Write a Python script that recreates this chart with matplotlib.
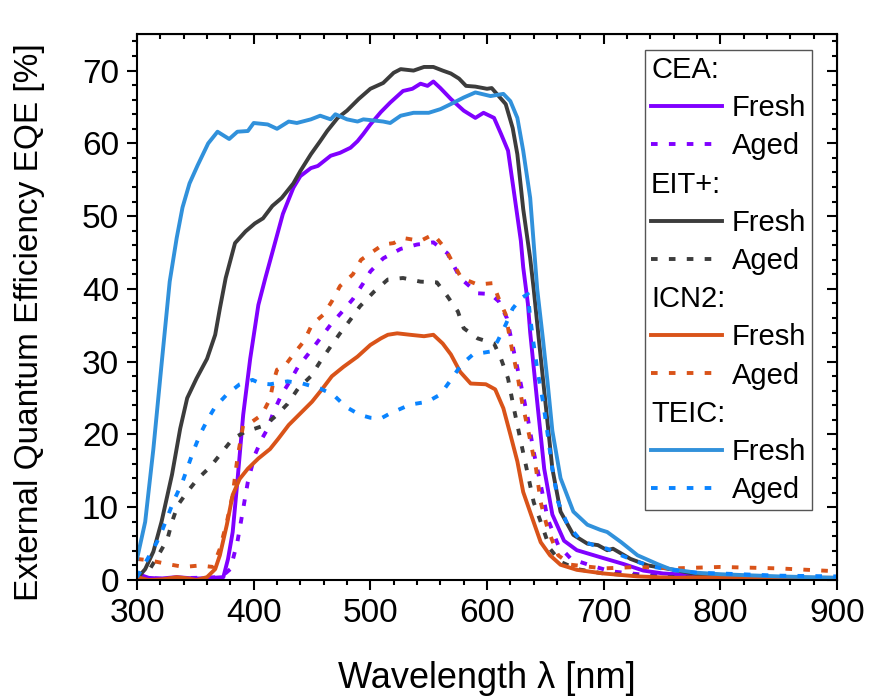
import matplotlib
matplotlib.use("Agg")
import matplotlib.pyplot as plt
import matplotlib.text as mtext
from matplotlib.ticker import MultipleLocator
from matplotlib.legend_handler import HandlerBase

plt.rcParams["font.family"] = ["Liberation Sans", "DejaVu Sans"]

# Dados: comprimento de onda (nm) e EQE (%)
cea_fresh_wl = [300, 303, 310, 320, 334, 350, 365, 374, 378, 382, 386, 391, 397, 404, 410, 417,
                425, 434, 440, 449, 455, 466, 474, 483, 489, 494, 500, 509, 517, 528, 536, 543,
                549, 554, 560, 569, 580, 590, 597, 606, 612, 618, 623, 626, 629, 631, 635, 637,
                643, 649, 656, 666, 677, 700, 717, 734, 751, 800, 850, 900]
cea_fresh = [0.3, 0.7, 0.3, 0.2, 0.4, 0.2, 0.3, 0.4, 2.9, 6.6, 13.5, 22.7, 30.4, 37.8, 41.5, 45.6,
             50.3, 53.9, 55.5, 56.6, 56.9, 58.3, 58.7, 59.4, 60.3, 61.3, 62.6, 64.3, 65.6, 67.2, 67.5, 68.2,
             67.9, 68.5, 67.6, 66.1, 64.5, 63.5, 64.2, 63.5, 61.3, 59.0, 53.4, 50.0, 46.6, 43.0, 38.0, 34.0,
             24.5, 15.3, 9.0, 5.4, 4.1, 3.0, 2.2, 1.3, 0.9, 0.5, 0.3, 0.2]

cea_aged_wl = [300, 320, 350, 372, 380, 386, 391, 395, 401, 407, 412, 417, 424, 431, 438, 447,
               457, 466, 476, 485, 494, 500, 511, 526, 540, 554, 566, 577, 592, 603, 610, 617,
               623, 629, 635, 640, 646, 652, 661, 672, 689, 706, 730, 760, 800, 900]
cea_aged = [0.3, 0.2, 0.3, 0.4, 1.5, 5.2, 9.8, 13.5, 17.2, 19.4, 20.8, 23.1, 25.5, 27.3, 29.3, 31.1,
            33.2, 35.1, 36.9, 38.6, 40.8, 42.4, 44.2, 45.5, 46.1, 46.4, 44.9, 41.5, 39.4, 39.3, 38.3, 36.0,
            31.4, 26.9, 22.2, 17.6, 13.1, 8.4, 4.8, 2.9, 2.0, 1.2, 0.8, 0.5, 0.3, 0.2]

eit_fresh_wl = [300, 307, 314, 321, 330, 337, 343, 351, 360, 367, 371, 376, 384, 393, 401, 408,
                416, 424, 434, 440, 449, 457, 463, 472, 480, 490, 500, 511, 520, 526, 537, 546,
                554, 562, 569, 576, 582, 590, 600, 604, 610, 616, 622, 626, 631, 637, 640, 644,
                650, 656, 663, 674, 686, 695, 703, 708, 723, 738, 757, 780, 800, 850, 900]
eit_fresh = [0.2, 1.5, 3.9, 8.0, 14.5, 20.8, 25.0, 27.7, 30.4, 33.7, 37.3, 41.5, 46.3, 47.9, 49.0, 49.7,
             51.4, 52.5, 54.5, 56.2, 58.5, 60.3, 61.7, 63.5, 64.5, 66.1, 67.5, 68.3, 69.7, 70.2, 70.0, 70.5,
             70.5, 70.0, 69.6, 68.9, 67.9, 67.8, 67.5, 67.6, 66.5, 65.4, 62.1, 58.5, 51.0, 44.2, 40.0, 33.7,
             24.5, 15.3, 9.4, 6.2, 5.0, 4.8, 4.1, 4.3, 2.9, 2.0, 1.5, 0.8, 0.5, 0.3, 0.3]

eit_aged_wl = [300, 301, 311, 320, 326, 330, 335, 343, 352, 363, 373, 382, 393, 401, 410, 420,
               429, 438, 449, 457, 466, 474, 483, 491, 503, 515, 528, 543, 557, 566, 575, 580,
               592, 606, 612, 618, 623, 629, 635, 640, 646, 654, 663, 677, 700, 750, 800, 900]
eit_aged = [0.3, 0.7, 1.5, 3.9, 5.6, 8.0, 10.3, 12.1, 13.9, 15.6, 17.6, 19.4, 20.4, 20.8, 21.3, 22.7,
            24.2, 26.3, 28.0, 30.0, 32.1, 33.9, 35.8, 37.6, 39.6, 41.3, 41.5, 41.0, 40.9, 39.0, 36.9, 34.6,
            33.2, 32.5, 30.4, 27.7, 23.6, 19.0, 14.5, 10.7, 8.0, 4.3, 2.5, 1.5, 0.9, 0.4, 0.3, 0.2]

icn_fresh_wl = [300, 310, 322, 334, 345, 351, 360, 367, 371, 377, 382, 388, 395, 404, 414, 421,
                430, 440, 450, 459, 467, 477, 489, 500, 509, 515, 523, 534, 546, 554, 562, 569,
                577, 586, 599, 607, 614, 620, 626, 631, 639, 646, 654, 663, 677, 700, 729, 760,
                800, 850, 900]
icn_fresh = [0.4, 0.0, 0.1, 0.4, 0.2, 0.0, 0.4, 1.5, 3.4, 7.6, 11.7, 13.9, 15.3, 16.7, 18.0, 19.4,
             21.3, 22.9, 24.5, 26.3, 28.0, 29.3, 30.7, 32.3, 33.2, 33.7, 33.9, 33.7, 33.5, 33.7, 32.5, 31.0,
             28.6, 27.0, 26.9, 26.2, 23.6, 20.0, 16.3, 12.1, 8.4, 5.2, 3.4, 2.1, 1.4, 0.9, 0.5, 0.3,
             0.4, 0.3, 0.3]

icn_aged_wl = [300, 311, 326, 340, 354, 365, 371, 377, 382, 386, 391, 399, 407, 414, 417, 420,
               427, 434, 443, 450, 460, 467, 474, 485, 492, 500, 511, 520, 528, 543, 554, 564,
               571, 578, 592, 605, 610, 616, 620, 626, 630, 636, 642, 646, 652, 661, 672, 700,
               730, 760, 800, 850, 900]
icn_aged = [2.9, 2.7, 2.2, 1.8, 2.0, 1.8, 4.3, 8.0, 11.7, 16.7, 21.3, 21.8, 22.7, 24.9, 27.3, 28.9,
            29.5, 31.0, 32.8, 35.1, 36.5, 38.3, 40.4, 42.0, 44.0, 44.9, 46.1, 46.3, 47.0, 46.6, 47.5, 45.6,
            43.5, 41.5, 40.6, 40.8, 38.7, 36.5, 32.8, 28.2, 24.5, 20.0, 15.3, 10.7, 7.0, 3.4, 2.1, 1.6,
            1.8, 1.6, 1.8, 1.6, 1.2]

teic_fresh_wl = [300, 307, 314, 321, 328, 334, 339, 345, 352, 361, 369, 379, 386, 395, 400, 412,
                 420, 430, 437, 449, 457, 466, 470, 480, 489, 494, 500, 511, 517, 526, 537, 550,
                 560, 569, 580, 590, 603, 614, 620, 626, 631, 637, 643, 648, 652, 656, 663, 674,
                 686, 697, 703, 715, 729, 746, 757, 780, 800, 850, 900]
teic_fresh = [2.9, 8.0, 18.0, 29.6, 41.0, 47.0, 51.2, 54.5, 57.0, 60.0, 61.6, 60.6, 61.6, 61.7, 62.8, 62.6,
              62.0, 63.0, 62.8, 63.3, 63.8, 63.3, 64.0, 63.3, 63.0, 63.3, 63.2, 63.0, 62.8, 63.8, 64.2, 64.2,
              64.7, 65.4, 66.3, 67.0, 66.5, 66.8, 65.8, 63.5, 59.0, 52.5, 40.0, 33.0, 27.0, 20.5, 14.0, 9.4,
              7.6, 6.9, 6.6, 5.2, 3.4, 2.2, 1.5, 1.0, 0.8, 0.5, 0.3]

teic_aged_wl = [300, 309, 317, 322, 331, 339, 348, 354, 361, 367, 377, 388, 399, 406, 414, 429,
                442, 457, 468, 479, 491, 500, 509, 517, 534, 549, 560, 569, 578, 588, 603, 609,
                616, 622, 629, 635, 637, 640, 643, 648, 652, 656, 661, 669, 680, 691, 703, 715,
                729, 743, 757, 780, 800, 850, 900]
teic_aged = [0.4, 2.9, 5.2, 7.0, 10.7, 13.5, 17.6, 20.0, 22.2, 23.8, 25.5, 26.9, 27.5, 27.0, 26.9, 27.3,
             27.0, 26.3, 25.5, 23.8, 22.7, 22.3, 22.2, 22.9, 24.1, 24.5, 25.5, 27.5, 29.6, 31.0, 31.4, 32.8,
             35.1, 37.3, 38.7, 39.3, 36.0, 32.4, 29.0, 24.5, 20.0, 15.3, 10.7, 7.6, 5.5, 4.8, 4.3, 3.4,
             2.5, 1.8, 1.4, 1.0, 0.9, 0.6, 0.5]

group_names = ["CEA:", "EIT+:", "ICN2:", "TEIC:"]
state_names = ["Fresh", "Aged"]


# Cabeçalho de grupo na legenda (texto no lugar da linha)
class Header:
    def __init__(self, text):
        self.text = text


class HeaderHandler(HandlerBase):
    def legend_artist(self, legend, orig_handle, fontsize, handlebox):
        t = mtext.Text(0, 0, orig_handle.text, fontsize=fontsize, va="baseline", ha="left",
                       family=["Liberation Sans", "DejaVu Sans"])
        handlebox.add_artist(t)
        return t


fig = plt.figure(figsize=(8.7, 6.98), dpi=100)
ax = fig.add_axes([0.1575, 0.169, 0.8046, 0.782])

dots = (0, (1.7, 2.9))
lw = 2.8

l1, = ax.plot(cea_fresh_wl, cea_fresh, color="#8000FF", lw=lw)
l2, = ax.plot(cea_aged_wl, cea_aged, color="#8000FF", lw=lw, ls=dots)
l3, = ax.plot(eit_fresh_wl, eit_fresh, color="#3C3C3C", lw=lw)
l4, = ax.plot(eit_aged_wl, eit_aged, color="#3C3C3C", lw=lw, ls=dots)
l5, = ax.plot(icn_fresh_wl, icn_fresh, color="#D95319", lw=lw)
l6, = ax.plot(icn_aged_wl, icn_aged, color="#D95319", lw=lw, ls=dots)
l7, = ax.plot(teic_fresh_wl, teic_fresh, color="#3191DB", lw=lw)
l8, = ax.plot(teic_aged_wl, teic_aged, color="#0A84FF", lw=lw, ls=dots)

ax.set_xlim(300, 900)
ax.set_ylim(0, 75)
ax.xaxis.set_major_locator(MultipleLocator(100))
ax.xaxis.set_minor_locator(MultipleLocator(20))
ax.yaxis.set_major_locator(MultipleLocator(10))
ax.yaxis.set_minor_locator(MultipleLocator(2))
ax.tick_params(which="both", direction="out", width=1.5, labelsize=24, pad=6, top=False, right=False)
ax.tick_params(which="major", length=7)
ax.tick_params(which="minor", length=3.5)
for s in ax.spines.values():
    s.set_linewidth(1.5)

# Ticks internos em cima e à direita
top = ax.secondary_xaxis("top")
top.xaxis.set_major_locator(MultipleLocator(100))
top.xaxis.set_minor_locator(MultipleLocator(20))
top.tick_params(which="both", direction="in", width=1.5, labeltop=False)
top.tick_params(which="major", length=7)
top.tick_params(which="minor", length=3.5)
right = ax.secondary_yaxis("right")
right.yaxis.set_major_locator(MultipleLocator(10))
right.yaxis.set_minor_locator(MultipleLocator(2))
right.tick_params(which="both", direction="in", width=1.5, labelright=False)
right.tick_params(which="major", length=7)
right.tick_params(which="minor", length=3.5)

ax.set_xlabel("Wavelength λ [nm]", fontsize=26)
ax.xaxis.set_label_coords(0.5, -0.181)
ax.xaxis.label.set_va("center")
ax.set_ylabel("External Quantum Efficiency EQE [%]", fontsize=24)
ax.yaxis.set_label_coords(-0.153, 0.473)
ax.yaxis.label.set_va("center")

lines = [(l1, l2), (l3, l4), (l5, l6), (l7, l8)]
handles, labels = [], []
for name, pair in zip(group_names, lines):
    handles.append(Header(name))
    labels.append(" ")
    for ln, st in zip(pair, state_names):
        handles.append(ln)
        labels.append(st)

leg = ax.legend(handles, labels, handler_map={Header: HeaderHandler()}, loc="upper right",
                bbox_to_anchor=(0.9643, 0.9707), borderaxespad=0, fontsize=21,
                handlelength=2.43, handletextpad=0.34, labelspacing=0.35, borderpad=0.2,
                fancybox=False, framealpha=1, edgecolor="#555555")
leg.get_frame().set_linewidth(1.0)

fig.savefig("out.png", dpi=100)
